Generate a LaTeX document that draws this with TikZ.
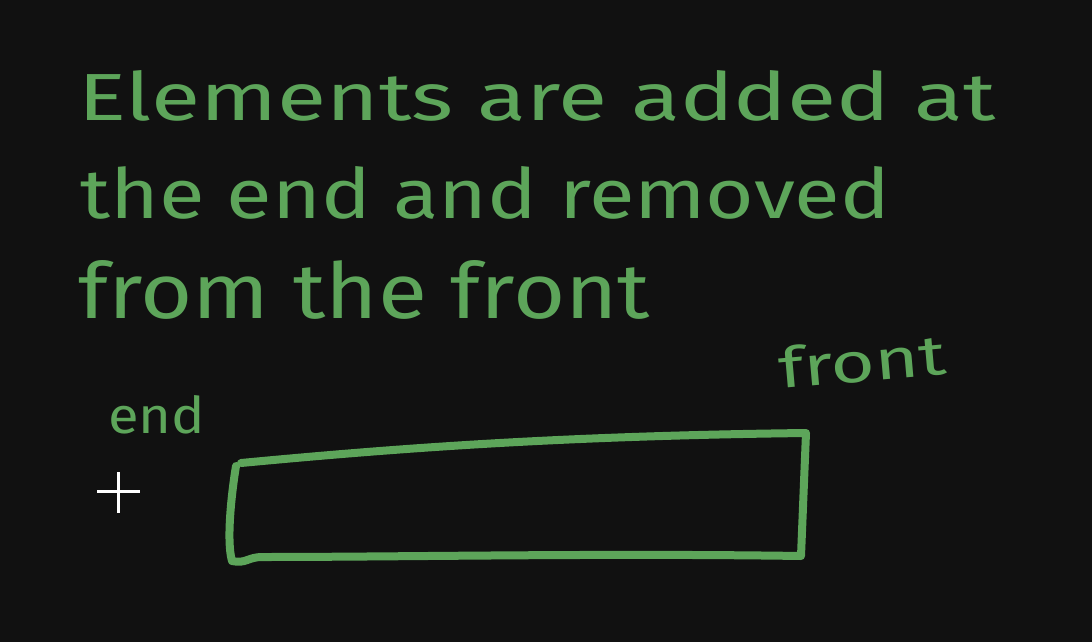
\documentclass[tikz,border=0pt]{standalone}
\usepackage{fontspec}
\setmainfont{Fira Sans}
\usepackage{graphicx}

\definecolor{board}{HTML}{111111}
\definecolor{chalk}{HTML}{5DA55A}

\begin{document}
\begin{tikzpicture}[x=1pt, y=-1pt, line cap=round, line join=round]

  %% ════ 背景 ════
  \fill[board] (0,0) rectangle (1092,642);

  %% ════ 文字 ════
  \tikzset{chalktext/.style={anchor=base west, inner sep=0pt, text=chalk}}
  \node[chalktext] (line1) at (78,120) {\resizebox{917pt}{50pt}{Elements are added at}};
  \node[chalktext] (line2) at (80,218) {\resizebox{810pt}{52pt}{the end and removed}};
  \node[chalktext] (line3) at (78,318) {\resizebox{572pt}{58pt}{from the front}};
  \node[chalktext] (endlbl) at (108,433) {\resizebox{97pt}{38pt}{end}};
  \node[chalktext, rotate=5] (frontlbl) at (780,389) {\resizebox{168pt}{42pt}{front}};

  %% ════ 光标 ════
  \draw[white, line width=3pt, line cap=butt] (97,491) -- (140,491);
  \draw[white, line width=3pt, line cap=butt] (118,472) -- (118,513);

  %% ════ 方框（手绘）════
  \draw[chalk, line width=8pt]
    (241,463) .. controls (400,448) and (560,436) .. (806,433)
    -- (801,556)
    .. controls (600,553) and (400,557) .. (262,557)
    .. controls (248,557) and (246,564) .. (232,561)
    .. controls (226,540) and (232,490) .. (236,466);

  % 钉死画布
  \pgfresetboundingbox
  \path[use as bounding box] (0,0) rectangle (1092,642);
\end{tikzpicture}
\end{document}
